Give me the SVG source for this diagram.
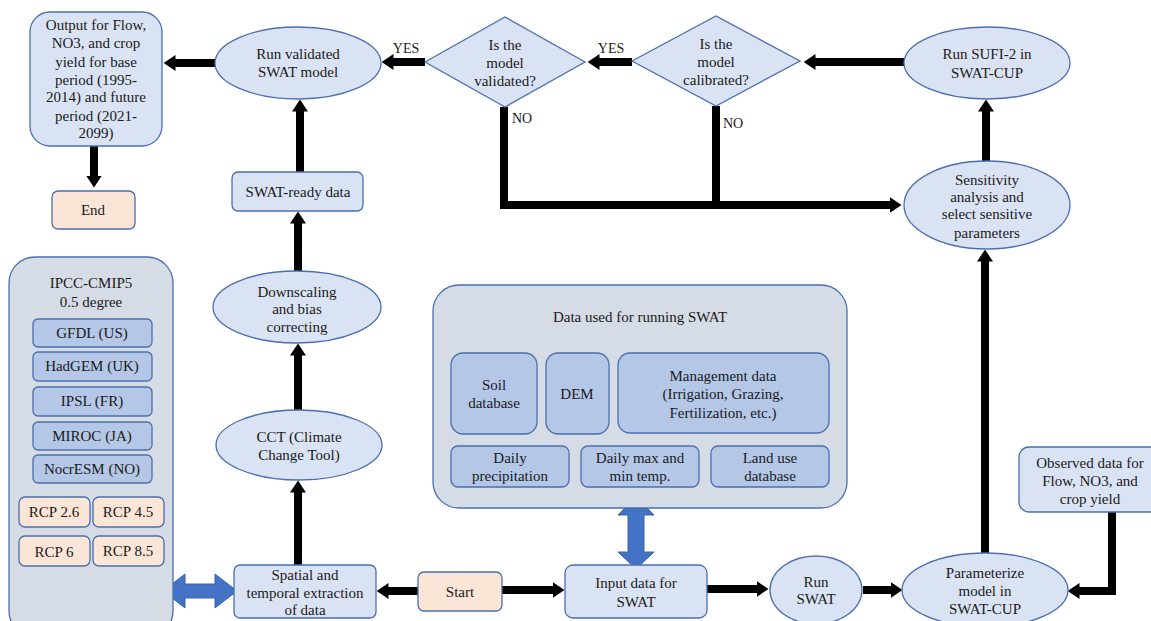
<svg xmlns="http://www.w3.org/2000/svg" width="1151" height="621" viewBox="0 0 1151 621" font-family="'DejaVu Serif', serif">
<defs>
<style>
.n{fill:#dae3f3;stroke:#4a6fae;stroke-width:1.3}
.p{fill:#d6dce5;stroke:#4a6fae;stroke-width:1.3}
.g{fill:#b4c7e7;stroke:#4a6fae;stroke-width:1.3}
.o{fill:#fbe5d6;stroke:#4a6fae;stroke-width:1.3}
.b{fill:#4472c4;stroke:#3a63a8;stroke-width:1}
text{font-family:'Times New Roman', 'Liberation Serif', 'DejaVu Serif', serif;font-size:15px;fill:#1a1a1a;text-anchor:middle;dominant-baseline:central}
.s{font-size:14px}
.c{fill:none;stroke:#000;stroke-width:8;stroke-linejoin:miter}
</style>
<marker id="ah" markerUnits="userSpaceOnUse" markerWidth="12" markerHeight="16" viewBox="0 0 12 16" refX="0.5" refY="8" orient="auto"><path d="M0,0 L12,8 L0,16 z" fill="#000"/></marker>
</defs>
<rect width="1151" height="621" fill="#fff"/>

<g id="connectors">
<line class="c" x1="215" y1="63" x2="175" y2="63" marker-end="url(#ah)"/>
<line class="c" x1="94" y1="146" x2="94" y2="176" marker-end="url(#ah)"/>
<line class="c" x1="300" y1="172" x2="300" y2="111" marker-end="url(#ah)"/>
<line class="c" x1="425" y1="62" x2="393" y2="62" marker-end="url(#ah)"/>
<line class="c" x1="632" y1="62" x2="599" y2="62" marker-end="url(#ah)"/>
<line class="c" x1="904" y1="62" x2="815" y2="62" marker-end="url(#ah)"/>
<path class="c" d="M504,107 V205 H890" marker-end="url(#ah)"/>
<line class="c" x1="716" y1="106" x2="716" y2="205"/>
<line class="c" x1="986" y1="162" x2="986" y2="111" marker-end="url(#ah)"/>
<line class="c" x1="985" y1="553" x2="985" y2="261" marker-end="url(#ah)"/>
<line class="c" x1="298" y1="565" x2="298" y2="492" marker-end="url(#ah)"/>
<line class="c" x1="298" y1="410" x2="298" y2="355" marker-end="url(#ah)"/>
<line class="c" x1="298" y1="271" x2="298" y2="223" marker-end="url(#ah)"/>
<line class="c" x1="418" y1="591" x2="388" y2="591" marker-end="url(#ah)"/>
<line class="c" x1="502" y1="590" x2="553" y2="590" marker-end="url(#ah)"/>
<line class="c" x1="707" y1="589" x2="757" y2="589" marker-end="url(#ah)"/>
<line class="c" x1="863" y1="590" x2="891" y2="590" marker-end="url(#ah)"/>
<path class="c" d="M1112,512 V591 H1079" marker-end="url(#ah)"/>
<polygon class="b" points="163,591 185,574 185,584 215,584 215,574 237,591 215,608 215,598 185,598 185,608"/>
<polygon class="b" points="636,497 654,515 644,515 644,552 654,552 636,569 618,552 628,552 628,515 618,515"/>
</g>

<g id="output"><rect class="n" x="30" y="12" width="132" height="134" rx="20"/>
<text x="96" y="25">Output for Flow,</text><text x="96" y="43">NO3, and crop</text><text x="96" y="62">yield for base</text><text x="96" y="80">period (1995-</text><text x="96" y="97">2014) and future</text><text x="96" y="116">period (2021-</text><text x="96" y="133">2099)</text></g>

<g id="end"><rect class="o" x="52" y="191" width="83" height="38" rx="6"/><text x="93" y="210">End</text></g>

<g id="run-validated"><ellipse class="n" cx="298" cy="63" rx="83" ry="36"/><text x="298" y="54">Run validated</text><text x="298" y="72">SWAT model</text></g>

<g id="swat-ready"><rect class="n" x="232" y="172" width="131" height="39" rx="6"/><text x="298" y="192">SWAT-ready data</text></g>

<g id="validated"><polygon class="n" points="425,62 505,17 585,62 505,107"/><text x="505" y="45">Is the</text><text x="505" y="63">model</text><text x="505" y="81">validated?</text></g>

<g id="calibrated"><polygon class="n" points="632,61 716,16 800,61 716,106"/><text x="716" y="44">Is the</text><text x="716" y="62">model</text><text x="716" y="80">calibrated?</text></g>

<g id="labels"><text class="s" x="406" y="48">YES</text><text class="s" x="611" y="48">YES</text><text class="s" x="522" y="118">NO</text><text class="s" x="733" y="123">NO</text></g>

<g id="sufi2"><ellipse class="n" cx="987" cy="63" rx="83" ry="36"/><text x="987" y="54">Run SUFI-2 in</text><text x="987" y="73">SWAT-CUP</text></g>

<g id="sensitivity"><ellipse class="n" cx="987" cy="205" rx="83" ry="44"/><text x="987" y="180">Sensitivity</text><text x="987" y="197">analysis and</text><text x="987" y="214">select sensitive</text><text x="987" y="233">parameters</text></g>

<g id="ipcc"><rect class="p" x="9" y="257" width="164" height="380" rx="26"/>
<text x="91" y="283">IPCC-CMIP5</text><text x="91" y="302">0.5 degree</text>
<rect class="g" x="33" y="319" width="119" height="28" rx="5"/><text x="92" y="333">GFDL (US)</text>
<rect class="g" x="33" y="352" width="119" height="29" rx="5"/><text x="92" y="366">HadGEM (UK)</text>
<rect class="g" x="33" y="387" width="119" height="29" rx="5"/><text x="92" y="401">IPSL (FR)</text>
<rect class="g" x="33" y="422" width="119" height="28" rx="5"/><text x="92" y="436">MIROC (JA)</text>
<rect class="g" x="33" y="455" width="119" height="28" rx="5"/><text x="92" y="469">NocrESM (NO)</text>
<rect class="o" x="19" y="497" width="71" height="30" rx="6"/><text x="54" y="512">RCP 2.6</text>
<rect class="o" x="93" y="497" width="71" height="30" rx="6"/><text x="128" y="512">RCP 4.5</text>
<rect class="o" x="19" y="536" width="71" height="30" rx="6"/><text x="54" y="552">RCP 6</text>
<rect class="o" x="93" y="536" width="71" height="30" rx="6"/><text x="128" y="551">RCP 8.5</text></g>

<g id="downscaling"><ellipse class="n" cx="297" cy="307" rx="84" ry="36"/><text x="297" y="292">Downscaling</text><text x="297" y="309">and bias</text><text x="297" y="327">correcting</text></g>

<g id="cct"><ellipse class="n" cx="299" cy="445" rx="83" ry="35"/><text x="299" y="437">CCT (Climate</text><text x="299" y="455">Change Tool)</text></g>

<g id="spatial"><rect class="n" x="234" y="565" width="142" height="53" rx="6"/><text x="305" y="575">Spatial and</text><text x="305" y="593">temporal extraction</text><text x="305" y="610">of data</text></g>

<g id="start"><rect class="o" x="418" y="572" width="84" height="39" rx="6"/><text x="460" y="592">Start</text></g>

<g id="input"><rect class="n" x="565" y="565" width="142" height="53" rx="8"/><text x="636" y="583">Input data for</text><text x="636" y="602">SWAT</text></g>

<g id="data"><rect class="p" x="433" y="285" width="414" height="223" rx="26"/>
<text x="640" y="317">Data used for running SWAT</text>
<rect class="g" x="451" y="353" width="86" height="81" rx="12"/><text x="494" y="385">Soil</text><text x="494" y="403">database</text>
<rect class="g" x="546" y="353" width="63" height="81" rx="12"/><text x="577" y="394">DEM</text>
<rect class="g" x="618" y="353" width="211" height="80" rx="12"/><text x="723" y="376">Management data</text><text x="723" y="394">(Irrigation, Grazing,</text><text x="723" y="413">Fertilization, etc.)</text>
<rect class="g" x="451" y="446" width="118" height="41" rx="7"/><text x="510" y="458">Daily</text><text x="510" y="476">precipitation</text>
<rect class="g" x="581" y="446" width="118" height="41" rx="7"/><text x="640" y="458">Daily max and</text><text x="640" y="476">min temp.</text>
<rect class="g" x="711" y="446" width="118" height="41" rx="7"/><text x="770" y="458">Land use</text><text x="770" y="476">database</text></g>

<g id="run-swat"><ellipse class="n" cx="816" cy="590" rx="46" ry="34"/><text x="816" y="582">Run</text><text x="816" y="599">SWAT</text></g>

<g id="parameterize"><ellipse class="n" cx="985" cy="590" rx="83" ry="37"/><text x="985" y="573">Parameterize</text><text x="985" y="591">model in</text><text x="985" y="609">SWAT-CUP</text></g>

<g id="observed"><rect class="n" x="1019" y="447" width="143" height="65" rx="10"/><text x="1090" y="463">Observed data for</text><text x="1090" y="481">Flow, NO3, and</text><text x="1090" y="499">crop yield</text></g>
</svg>
